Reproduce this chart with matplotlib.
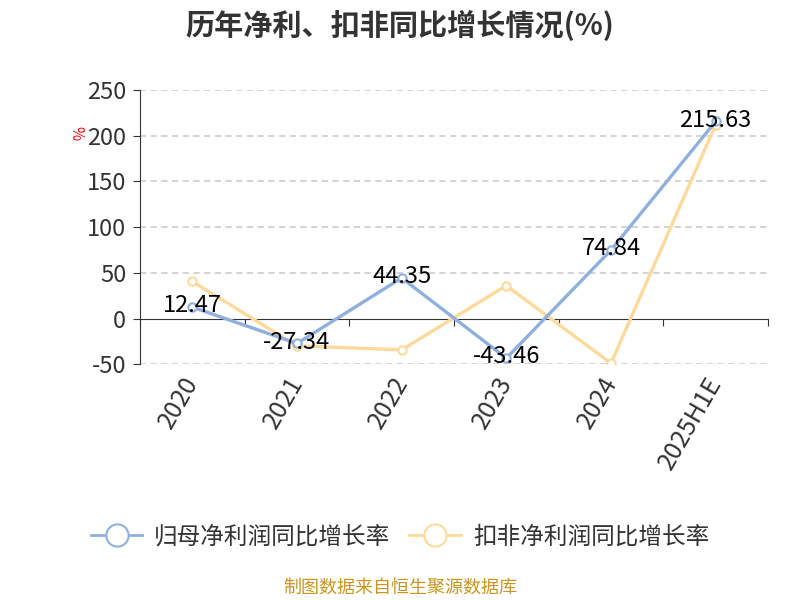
import matplotlib
matplotlib.use("Agg")
import matplotlib.pyplot as plt
import matplotlib.transforms as mtransforms
from matplotlib.lines import Line2D

plt.rcParams["font.family"] = ["Noto Sans CJK SC", "DejaVu Sans"]

years = ["2020", "2021", "2022", "2023", "2024", "2025H1E"]
net_profit_growth = [12.47, -27.34, 44.35, -43.46, 74.84, 215.63]
deducted_growth = [40.5, -30.0, -34.3, 36.0, -49.0, 212.0]
series_names = ["归母净利润同比增长率", "扣非净利润同比增长率"]
yticks = [-50, 0, 50, 100, 150, 200, 250]

BLUE = "#8fb0dd"
ORANGE = "#fdda9b"

fig = plt.figure(figsize=(8, 6), dpi=100)
ax = fig.add_axes([0.175, 0.393, 0.785, 0.457])

x = list(range(len(years)))
ax.plot(x, net_profit_growth, color=BLUE, lw=2.4, marker="o", ms=6,
        mfc="white", mec=BLUE, mew=1.5, zorder=4)
ax.plot(x, deducted_growth, color=ORANGE, lw=2.4, marker="o", ms=6,
        mfc="white", mec=ORANGE, mew=1.5, zorder=3)

for xi, v in zip(x, net_profit_growth):
    ax.text(xi, v + 1.5, f"{v:.2f}", ha="center", va="center",
            fontsize=17, color="black", zorder=5)

ax.set_xlim(-0.5, len(years) - 0.5)
ax.set_ylim(-50, 250)
ax.set_yticks(yticks)
ax.set_yticklabels([str(t) for t in yticks], fontsize=17, color="#333333")
ax.tick_params(axis="y", length=5, color="#333333", pad=5)
for t in yticks:
    if t != 0:
        ax.axhline(t, color="#c8c8c8", lw=1.1, ls=(0, (4, 3)), zorder=1)

# zero axis line with boundary ticks
ax.spines["bottom"].set_position(("data", 0))
ax.spines["bottom"].set_color("#333333")
ax.spines["bottom"].set_zorder(2)
ax.set_xticks([i + 0.5 for i in range(-1, len(years))])
ax.set_xticklabels([])
ax.tick_params(axis="x", length=5, color="#333333", direction="out")
for s in ["top", "right"]:
    ax.spines[s].set_visible(False)
ax.spines["left"].set_color("#333333")

trans = mtransforms.blended_transform_factory(ax.transData, ax.transAxes)
for xi, lab in zip(x, years):
    ax.text(xi - 0.1, -0.03, lab, transform=trans, rotation=60,
            ha="right", va="top", fontsize=18, color="#333333",
            rotation_mode="anchor")

fig.text(0.095, 0.778, "%", color="red", fontsize=11, rotation=-90,
         ha="center", va="center")

fig.text(0.5, 0.958, "历年净利、扣非同比增长情况(%)", ha="center", va="center",
         fontsize=21, fontweight="bold", color="#333333")

handles = [
    Line2D([], [], color=BLUE, lw=2, marker="o", ms=16, mfc="white", mec=BLUE, mew=1.5),
    Line2D([], [], color=ORANGE, lw=2, marker="o", ms=16, mfc="white", mec=ORANGE, mew=1.5),
]
fig.legend(handles, series_names, loc="center", bbox_to_anchor=(0.5, 0.105),
           ncol=2, frameon=False, fontsize=17, handlelength=2.2,
           columnspacing=0.8, handletextpad=0.5, labelcolor="#333333")

fig.text(0.5, 0.02, "制图数据来自恒生聚源数据库", ha="center", va="center",
         fontsize=13, color="#c8961e")

fig.savefig("out.png", dpi=100)
